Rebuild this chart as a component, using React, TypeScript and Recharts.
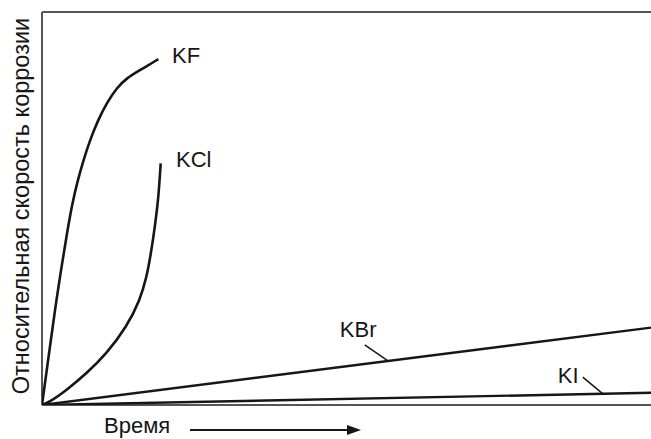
import React from 'react';
import {
  LineChart,
  Line,
  XAxis,
  YAxis,
  ReferenceLine,
  ReferenceDot,
  Customized,
} from 'recharts';

// Relative corrosion rate vs time (arbitrary units 0..100)
const kfTime = [0, 1.23, 2.13, 3.12, 4.19, 4.93, 5.75, 6.81, 7.88, 9.2, 10.62, 12.27, 13.91, 16.09, 19.1];
const kfRate = [0, 14.0, 24.2, 34.4, 44.5, 50.9, 56.5, 62.3, 67.4, 72.5, 76.8, 80.7, 83.2, 85.2, 88.0];

const kclTime = [0, 1.31, 4.06, 7.34, 10.62, 13.91, 16.09, 17.19, 17.9, 18.5, 19.1, 19.49];
const kclRate = [0, 0.84, 3.82, 8.07, 13.1, 19.9, 26.7, 32.6, 38.7, 45.0, 52.2, 61.5];

const kbrTime = [0, 100];
const kbrRate = [0, 19.7];

const kiTime = [0, 100];
const kiRate = [0, 3.1];

// series labels: name, text anchor (time, rate)
const labelNames = ['KF', 'KCl', 'KBr', 'KI'];
const labelTime = [21.35, 22.0, 48.9, 84.7];
const labelRate = [87.0, 60.6, 17.3, 5.6];

// leader lines for KBr and KI
const leaders = [
  [{ x: 53.0, y: 15.3 }, { x: 56.8, y: 11.2 }],
  [{ x: 88.8, y: 7.1 }, { x: 92.1, y: 2.85 }],
];

const zip = (t: number[], v: number[]) => t.map((x, i) => ({ t: x, v: v[i] }));

const INK = '#161616';
const FRAME = '#555';
const FONT = '"Liberation Sans", Arial, sans-serif';

const AxisTitles = () => (
  <g fontFamily={FONT} fill={INK}>
    <text
      x={0}
      y={0}
      transform="translate(21,206) rotate(-90)"
      textAnchor="middle"
      dominantBaseline="central"
      fontSize={23.5}
    >
      Относительная скорость коррозии
    </text>
    <text x={104} y={433} fontSize={22}>
      Время
    </text>
    <line x1={190} y1={430} x2={350} y2={430} stroke={INK} strokeWidth={2} />
    <polygon points="361,430 347,425 347,435" fill={INK} />
  </g>
);

export default function App() {
  return (
    <div style={{ position: 'absolute', left: 0, top: 0, background: '#fff' }}>
      <LineChart
        width={651}
        height={439}
        margin={{ top: 12, right: 0, bottom: 34, left: 42 }}
      >
        <XAxis
          type="number"
          dataKey="t"
          domain={[0, 100]}
          allowDataOverflow
          hide
        />
        <YAxis
          type="number"
          dataKey="v"
          domain={[0, 100]}
          allowDataOverflow
          hide
        />
        {/* frame: top, left, bottom */}
        <ReferenceLine y={100} stroke={FRAME} strokeWidth={2} />
        <ReferenceLine x={0} stroke={FRAME} strokeWidth={2} />
        <ReferenceLine y={0} stroke={FRAME} strokeWidth={2} />

        <Line data={zip(kfTime, kfRate)} dataKey="v" type="basis" stroke={INK} strokeWidth={2.6} dot={false} isAnimationActive={false} />
        <Line data={zip(kclTime, kclRate)} dataKey="v" type="basis" stroke={INK} strokeWidth={2.6} dot={false} isAnimationActive={false} />
        <Line data={zip(kbrTime, kbrRate)} dataKey="v" type="linear" stroke={INK} strokeWidth={2.4} dot={false} isAnimationActive={false} />
        <Line data={zip(kiTime, kiRate)} dataKey="v" type="linear" stroke={INK} strokeWidth={2.4} dot={false} isAnimationActive={false} />

        {leaders.map((seg, i) => (
          <ReferenceLine key={i} segment={seg} stroke={INK} strokeWidth={1.5} />
        ))}

        {labelNames.map((name, i) => (
          <ReferenceDot
            key={name}
            x={labelTime[i]}
            y={labelRate[i]}
            r={0}
            shape={(p: any) => (
              <text x={p.cx} y={p.cy} fontSize={22} fontFamily={FONT} fill={INK}>
                {name}
              </text>
            )}
          />
        ))}

        <Customized component={AxisTitles} />
      </LineChart>
    </div>
  );
}
